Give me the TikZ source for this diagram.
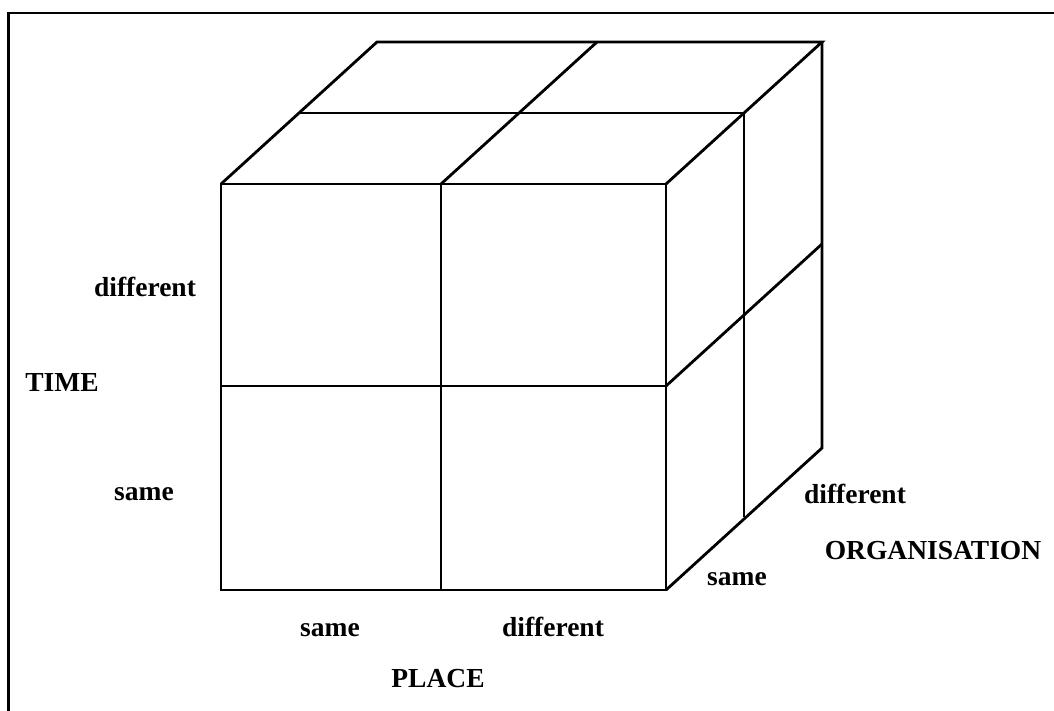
\documentclass[tikz,border=0pt]{standalone}
\usepackage{fontspec}
\setmainfont{Liberation Serif}
\usepackage{tikz}

\begin{document}
\begin{tikzpicture}[x=1pt,y=-1pt,line width=2.8pt,
  lbl/.style={font=\bfseries\fontsize{27.5}{30}\selectfont,anchor=base,inner sep=0pt}]
\useasboundingbox (0,0) rectangle (1054,711);
% Frame
\draw[line width=2.4pt] (8.5,711) -- (8.5,13) -- (1054,13);
% Front face
\draw (221,184) rectangle (666,590);
\draw (441,184) -- (441,590);
\draw (221,386) -- (666,386);
% Top face
\draw (221,184) -- (377,42) -- (822,42) -- (666,184);
\draw (441,184) -- (597,42);
\draw (299,113) -- (744,113);
% Right face
\draw (822,42) -- (822,448) -- (666,590);
\draw (666,386) -- (822,244);
\draw (744,113) -- (744,517);
% Labels
\node[lbl] (tdiff) at (145,296) {different};
\node[lbl] (time) at (62,391) {TIME};
\node[lbl] (tsame) at (144,500) {same};
\node[lbl] (psame) at (330,636) {same};
\node[lbl] (pdiff) at (553,636) {different};
\node[lbl] (place) at (438,687) {PLACE};
\node[lbl] (odiff) at (855,503) {different};
\node[lbl] (org) at (933,559) {ORGANISATION};
\node[lbl] (osame) at (737,585) {same};
\end{tikzpicture}
\end{document}
